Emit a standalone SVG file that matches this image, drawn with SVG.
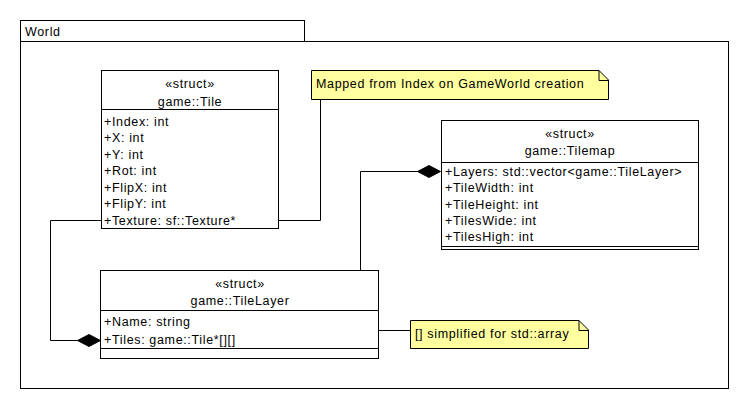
<svg xmlns="http://www.w3.org/2000/svg" width="750" height="410" viewBox="0 0 750 410">
<defs>
<style>
text{font-family:"Liberation Sans",Arial,sans-serif;font-size:12.5px;letter-spacing:0.65px;fill:#000}
.c{text-anchor:middle}
.box{fill:#fff;stroke:#000;stroke-width:1}
.note{fill:#ffffa0;stroke:#000;stroke-width:1}
.ln{fill:none;stroke:#000;stroke-width:1}
.dia{fill:#000;stroke:#000;stroke-width:1}
</style>
</defs>
<rect width="750" height="410" fill="#fff"/>
<g id="world">
<rect class="box" x="20.5" y="20.5" width="284" height="21"/>
<rect class="box" x="20.5" y="41.5" width="708" height="347"/>
<text x="25" y="36">World</text>
</g>
<g id="connectors">
<polyline class="ln" points="320.5,99 320.5,220.5 279,220.5"/>
<polyline class="ln" points="101,220.5 50.5,220.5 50.5,340.5 78,340.5"/>
<polygon class="dia" points="77.5,340.5 89,334.5 100.5,340.5 89,346.5"/>
<polyline class="ln" points="360.5,270 360.5,171.5 418,171.5"/>
<polygon class="dia" points="417.5,171.5 429,165.5 440.5,171.5 429,177.5"/>
<line class="ln" x1="379" y1="330.5" x2="411" y2="330.5"/>
</g>
<g id="tile">
<rect class="box" x="101.5" y="70.5" width="177" height="158"/>
<line class="ln" x1="101" y1="109.5" x2="279" y2="109.5"/>
<text class="c" x="190" y="88">«struct»</text>
<text class="c" x="190" y="106">game::Tile</text>
<text x="104" y="126">+Index: int</text>
<text x="104" y="142">+X: int</text>
<text x="104" y="158.5">+Y: int</text>
<text x="104" y="175">+Rot: int</text>
<text x="104" y="191.5">+FlipX: int</text>
<text x="104" y="208">+FlipY: int</text>
<text x="104" y="224.5">+Texture: sf::Texture*</text>
</g>
<g id="note1">
<path class="note" d="M311.5,70.5 H599 L608.5,80 V99.5 H311.5 Z"/>
<polyline class="ln" points="599,70.5 599,80.5 608.5,80.5"/>
<text x="316" y="88">Mapped from Index on GameWorld creation</text>
</g>
<g id="tilemap">
<rect class="box" x="441.5" y="120.5" width="257" height="129"/>
<line class="ln" x1="441" y1="162.5" x2="699" y2="162.5"/>
<line class="ln" x1="441" y1="246.5" x2="699" y2="246.5"/>
<text class="c" x="570" y="138">«struct»</text>
<text class="c" x="570" y="155">game::Tilemap</text>
<text x="445" y="175.5">+Layers: std::vector&lt;game::TileLayer&gt;</text>
<text x="445" y="192">+TileWidth: int</text>
<text x="445" y="208.5">+TileHeight: int</text>
<text x="445" y="224.5">+TilesWide: int</text>
<text x="445" y="241">+TilesHigh: int</text>
</g>
<g id="tilelayer">
<rect class="box" x="100.5" y="270.5" width="278" height="88"/>
<line class="ln" x1="100" y1="310.5" x2="379" y2="310.5"/>
<line class="ln" x1="100" y1="348.5" x2="379" y2="348.5"/>
<text class="c" x="240" y="288">«struct»</text>
<text class="c" x="240" y="305">game::TileLayer</text>
<text x="104" y="326">+Name: string</text>
<text x="104" y="343.5">+Tiles: game::Tile*[][]</text>
</g>
<g id="note2">
<path class="note" d="M410.5,320.5 H579 L588.5,330 V348.5 H410.5 Z"/>
<polyline class="ln" points="579,320.5 579,330.5 588.5,330.5"/>
<text x="415" y="337.5">[] simplified for std::array</text>
</g>
</svg>
